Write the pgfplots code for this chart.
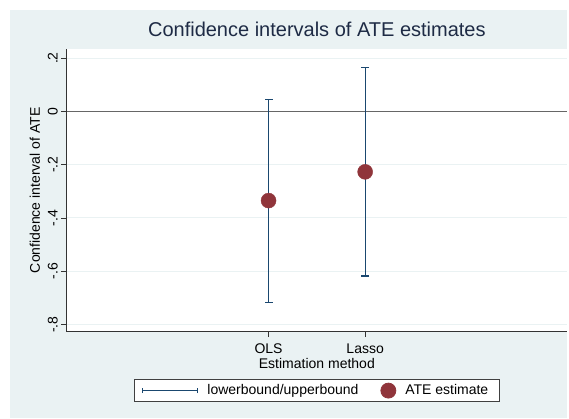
\documentclass[border=0pt]{standalone}
\usepackage{pgfplots}
\pgfplotsset{compat=1.18}
\usepackage{fontspec}
\setmainfont{Liberation Sans}
\definecolor{stbg}{HTML}{EAF2F3}
\definecolor{stgrid}{HTML}{EAF2F3}
\definecolor{stnavy}{HTML}{1A476F}
\definecolor{stred}{HTML}{90353B}
\definecolor{sttitle}{HTML}{1E2B45}
\begin{document}
\begin{tikzpicture}
\useasboundingbox (0,0) rectangle (569bp,419bp);
\fill[white] (0,0) rectangle (569bp,419bp);
\fill[stbg] (10bp,1bp) rectangle (567bp,409bp);
\begin{axis}[
  at={(66.7bp,87.3bp)}, anchor=south west,
  scale only axis, width=500.3bp, height=282.7bp,
  xmin=-1.09, xmax=4.09, ymin=-0.827, ymax=0.234,
  axis background/.style={fill=white},
  axis x line*=bottom, axis y line*=left,
  axis line style={black!80, line width=0.9bp, -},
  xtick={1,2}, xticklabels={OLS,Lasso},
  ytick={-0.8,-0.6,-0.4,-0.2,0,0.2}, yticklabels={-.8,-.6,-.4,-.2,0,.2},
  tick align=outside, major tick length=5.5bp,
  tick style={black!80, line width=0.8bp},
  ymajorgrids, major grid style={stgrid, line width=1bp},
  extra y ticks={0}, extra y tick labels={},
  extra y tick style={grid=major, major grid style={black!60, line width=1.2bp}},
  ticklabel style={font=\fontsize{14bp}{16bp}\selectfont},
  yticklabel style={rotate=90, anchor=south},
  xticklabel style={yshift=-3bp},
  label style={font=\fontsize{14bp}{16bp}\selectfont},
  title={Confidence intervals of ATE estimates},
  title style={font=\fontsize{20bp}{24bp}\selectfont, text=sttitle, anchor=base, at={(0.5,1)}, yshift=6.3bp},
  xlabel={Estimation method},
  xlabel style={at={(axis description cs:0.5,0)}, anchor=base, yshift=-36.6bp},
  ylabel={Confidence interval of ATE},
  ylabel style={at={(axis description cs:-0.05337,0.5)}, anchor=base},
  legend columns=2,
  legend style={at={(0.5,-0.1684)}, anchor=north, draw=black!75, fill=white, line width=0.8bp,
    font=\fontsize{14bp}{16bp}\selectfont, inner xsep=8bp, inner ysep=3bp,
    nodes={inner xsep=3bp},
    /tikz/every odd column/.append style={column sep=6bp},
    /tikz/every even column/.append style={column sep=19bp}},
]
\addplot[stnavy, line width=1.1bp, mark=-, mark size=4bp, mark options={solid, line width=1.1bp},
  legend image code/.code={%
    \draw[stnavy, line width=1bp] (0bp,0bp) -- (55bp,0bp);
    \draw[stnavy, line width=1bp] (0bp,-2.5bp) -- (0bp,2.5bp) (55bp,-2.5bp) -- (55bp,2.5bp);}]
  coordinates {(1,-0.717) (1,0.046)};
\addlegendentry{lowerbound/upperbound}
\addplot[stnavy, line width=1.1bp, mark=-, mark size=4bp, mark options={solid, line width=1.1bp}, forget plot]
  coordinates {(2,-0.618) (2,0.165)};
\addplot[only marks, mark=*, mark size=7.5bp, mark options={fill=stred, draw=stred},
  legend image code/.code={\fill[stred] (7.5bp,0bp) circle (7.5bp);}]
  coordinates {(1,-0.335) (2,-0.227)};
\addlegendentry{ATE estimate}
\end{axis}
\end{tikzpicture}
\end{document}
